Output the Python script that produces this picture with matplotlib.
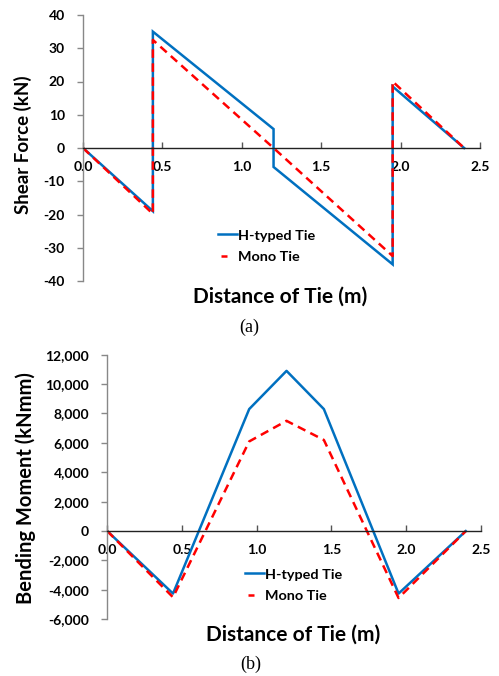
import matplotlib
matplotlib.use("Agg")
import matplotlib.pyplot as plt
from matplotlib.ticker import FuncFormatter, MultipleLocator
from matplotlib.lines import Line2D

# ---------------- data ----------------
shear_x_h = [0, 0.44, 0.44, 1.2, 1.2, 1.95, 1.95, 2.4]
shear_h = [0, -19, 35, 5.7, -5.7, -35, 18.5, 0]
shear_x_m = [0, 0.44, 0.44, 1.2, 1.95, 1.95, 2.4]
shear_m = [0, -19.8, 32.5, 0, -32.5, 20, 0]

moment_x = [0, 0.44, 0.95, 1.2, 1.45, 1.95, 2.4]
moment_h = [0, -4250, 8300, 10900, 8300, -4250, 0]
moment_m = [0, -4500, 6100, 7500, 6200, -4550, 0]

series_labels = ["H-typed Tie", "Mono Tie"]
xlabel = "Distance of Tie (m)"
ylabel_a = "Shear Force (kN)"
ylabel_b = "Bending Moment (kNmm)"
captions = ["(a)", "(b)"]

plt.rcParams['axes.unicode_minus'] = False
FONT = ['Lato', 'DejaVu Sans']
plt.rcParams['font.family'] = FONT

W, H = 499, 676
fig = plt.figure(figsize=(W / 100, H / 100), dpi=100)

BLUE = '#0070C0'
RED = '#FF0000'
LW = 1.8
DASH = (0, (3.4, 2.2))
TICK_FS = 10

def px_rect(left, right, top, bottom):
    return [left / W, 1 - bottom / H, (right - left) / W, (bottom - top) / H]

def style(ax):
    for s in ['top', 'right']:
        ax.spines[s].set_visible(False)
    ax.spines['left'].set_color('#888888')
    ax.spines['left'].set_linewidth(1.0)
    ax.spines['bottom'].set_position(('data', 0))
    ax.spines['bottom'].set_color('#222222')
    ax.spines['bottom'].set_linewidth(1.0)
    ax.tick_params(axis='y', direction='out', length=4, width=1, color='#888888',
                   pad=9, labelsize=TICK_FS)
    ax.tick_params(axis='x', direction='in', length=4, width=1, color='#555555',
                   pad=9.5, labelsize=TICK_FS)
    for lab in ax.get_xticklabels() + ax.get_yticklabels():
        lab.set_fontweight('bold')
    ax.xaxis.set_major_formatter(FuncFormatter(lambda v, p: f"{v:.1f}"))
    ax.set_xlim(0, 2.5)
    ax.xaxis.set_major_locator(MultipleLocator(0.5))

def legend(ax, x, y):
    h1 = Line2D([], [], color=BLUE, lw=LW)
    h2 = Line2D([], [], color=RED, lw=LW, linestyle=(7.2, (2.4, 6.0)))
    ax.legend([h1, h2], series_labels, loc='center left',
              bbox_to_anchor=(x / W, 1 - y / H), bbox_transform=fig.transFigure,
              frameon=False, prop={'family': FONT, 'weight': 'bold', 'size': 10.4},
              handlelength=1.32, handletextpad=0.08, labelspacing=0.62,
              borderpad=0, borderaxespad=0)

# ---------------- (a) shear ----------------
ax1 = fig.add_axes(px_rect(83, 480, 15, 281))
ax1.plot(shear_x_h, shear_h, color=BLUE, lw=LW, solid_joinstyle='miter')
ax1.plot(shear_x_m, shear_m, color=RED, lw=LW, linestyle=DASH)
ax1.set_ylim(-40, 40)
ax1.yaxis.set_major_locator(MultipleLocator(10))
ax1.yaxis.set_major_formatter(FuncFormatter(lambda v, p: f"{v:.0f}"))
style(ax1)
ax1.set_ylabel(ylabel_a, fontsize=13.5, fontweight='bold', va='center')
ax1.yaxis.set_label_coords((22.5 - 83) / 397, (281 - 145) / 266)
legend(ax1, 218, 246)

fig.text(280.5 / W, 1 - 297 / H, xlabel, ha='center', va='center',
         fontsize=15, fontweight='bold')
fig.text(249.5 / W, 1 - 327 / H, captions[0], ha='center', va='center',
         fontsize=13, family='Liberation Serif')

# ---------------- (b) moment ----------------
ax2 = fig.add_axes(px_rect(107.3, 480.7, 354.7, 619.3))
ax2.plot(moment_x, moment_h, color=BLUE, lw=LW)
ax2.plot(moment_x, moment_m, color=RED, lw=LW, linestyle=DASH)
ax2.set_ylim(-6000, 12000)
ax2.yaxis.set_major_locator(MultipleLocator(2000))
ax2.yaxis.set_major_formatter(FuncFormatter(lambda v, p: f"{v:,.0f}"))
style(ax2)
ax2.set_ylabel(ylabel_b, fontsize=14.5, fontweight='bold', va='center')
ax2.yaxis.set_label_coords((26 - 107.3) / 373.4, (619.3 - 488) / 264.6)
legend(ax2, 245, 585)

fig.text(293.5 / W, 1 - 635 / H, xlabel, ha='center', va='center',
         fontsize=15, fontweight='bold')
fig.text(251 / W, 1 - 664 / H, captions[1], ha='center', va='center',
         fontsize=13, family='Liberation Serif')

fig.savefig('out.png', dpi=100)
